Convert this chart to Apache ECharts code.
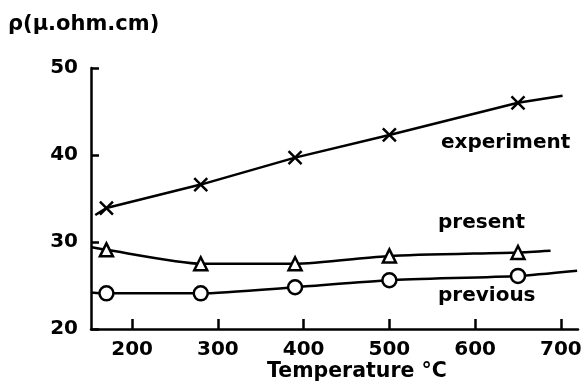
<!DOCTYPE html>
<html>
<head>
<meta charset="utf-8">
<script src="https://cdn.jsdelivr.net/npm/echarts@6/dist/echarts.min.js"></script>
<style>
  html, body { margin: 0; padding: 0; background: #fff; }
  #chart { width: 585px; height: 388px; }
</style>
</head>
<body>
<div id="chart"></div>
<script>
// measured temperatures (°C)
const temps = [170, 280, 390, 500, 650]
// resistivity values (µ.ohm.cm)
const experiment = [33.9, 36.6, 39.7, 42.3, 46.0]
const present = [29.1, 27.5, 27.5, 28.4, 28.8]
const previous = [24.1, 24.1, 24.8, 25.6, 26.1]
// where each drawn curve starts and ends beyond the markers
const experimentEnds = [[157, 33.1], [702, 46.8]]
const presentEnds = [[153, 29.4], [688, 29.0]]
const previousEnds = [[152, 24.2], [719, 26.7]]
const xTicks = [200, 300, 400, 500, 600, 700]

const FONT = 'DejaVu Sans'
const INK = '#000'

const chart = echarts.init(document.getElementById('chart'))

// build the curve through the markers plus the end extensions
const curve = (vals, ends) => [ends[0], ...temps.map((t, i) => [t, vals[i]]), ends[1]]
const points = vals => temps.map((t, i) => [t, vals[i]])

const lineSeries = (vals, ends, smooth) => ({
  type: 'line',
  data: curve(vals, ends),
  smooth: smooth,
  showSymbol: false,
  lineStyle: { color: INK, width: 2.5 },
  z: 2
})

const markSeries = (vals, symbol, size, fill) => ({
  type: 'scatter',
  data: points(vals),
  symbol: symbol,
  symbolSize: size,
  itemStyle: { color: fill, borderColor: INK, borderWidth: 2.5, opacity: 1 },
  z: 3
})

const label = (text, left, top, size) => ({
  type: 'text',
  left: left,
  top: top,
  style: { text: text, fontFamily: FONT, fontSize: size, fontWeight: 'bold', fill: INK }
})

const option = {
  animation: false,
  grid: { left: 91, right: 7, top: 68, bottom: 59 },
  xAxis: {
    type: 'value',
    min: 152,
    max: 720,
    axisLine: { lineStyle: { color: INK, width: 2.5 } },
    axisTick: { inside: true, length: 10, customValues: xTicks, lineStyle: { color: INK, width: 2.5 } },
    axisLabel: { customValues: xTicks, color: INK, fontFamily: FONT, fontWeight: 'bold', fontSize: 20, margin: 11 },
    splitLine: { show: false }
  },
  yAxis: {
    type: 'value',
    min: 20,
    max: 50,
    interval: 10,
    axisLine: { show: true, lineStyle: { color: INK, width: 2.5 } },
    axisTick: { show: true, inside: true, length: 8, lineStyle: { color: INK, width: 2.5 } },
    axisLabel: { color: INK, fontFamily: FONT, fontWeight: 'bold', fontSize: 20, margin: 13 },
    splitLine: { show: false }
  },
  graphic: [
    label('ρ(μ.ohm.cm)', 8, 14, 21),
    label('Temperature °C', 267, 361, 20.5),
    label('experiment', 441, 133, 20),
    label('present', 438, 213, 20),
    label('previous', 438, 286, 20)
  ],
  series: [
    lineSeries(experiment, experimentEnds, false),
    lineSeries(present, presentEnds, 0.2),
    lineSeries(previous, previousEnds, 0.2),
    markSeries(experiment, 'path://M0,0L10,10M10,0L0,10', 13, 'rgba(0,0,0,0)'),
    markSeries(present, 'triangle', 13, '#fff'),
    markSeries(previous, 'circle', 14, '#fff')
  ]
}

chart.setOption(option)
</script>
</body>
</html>
